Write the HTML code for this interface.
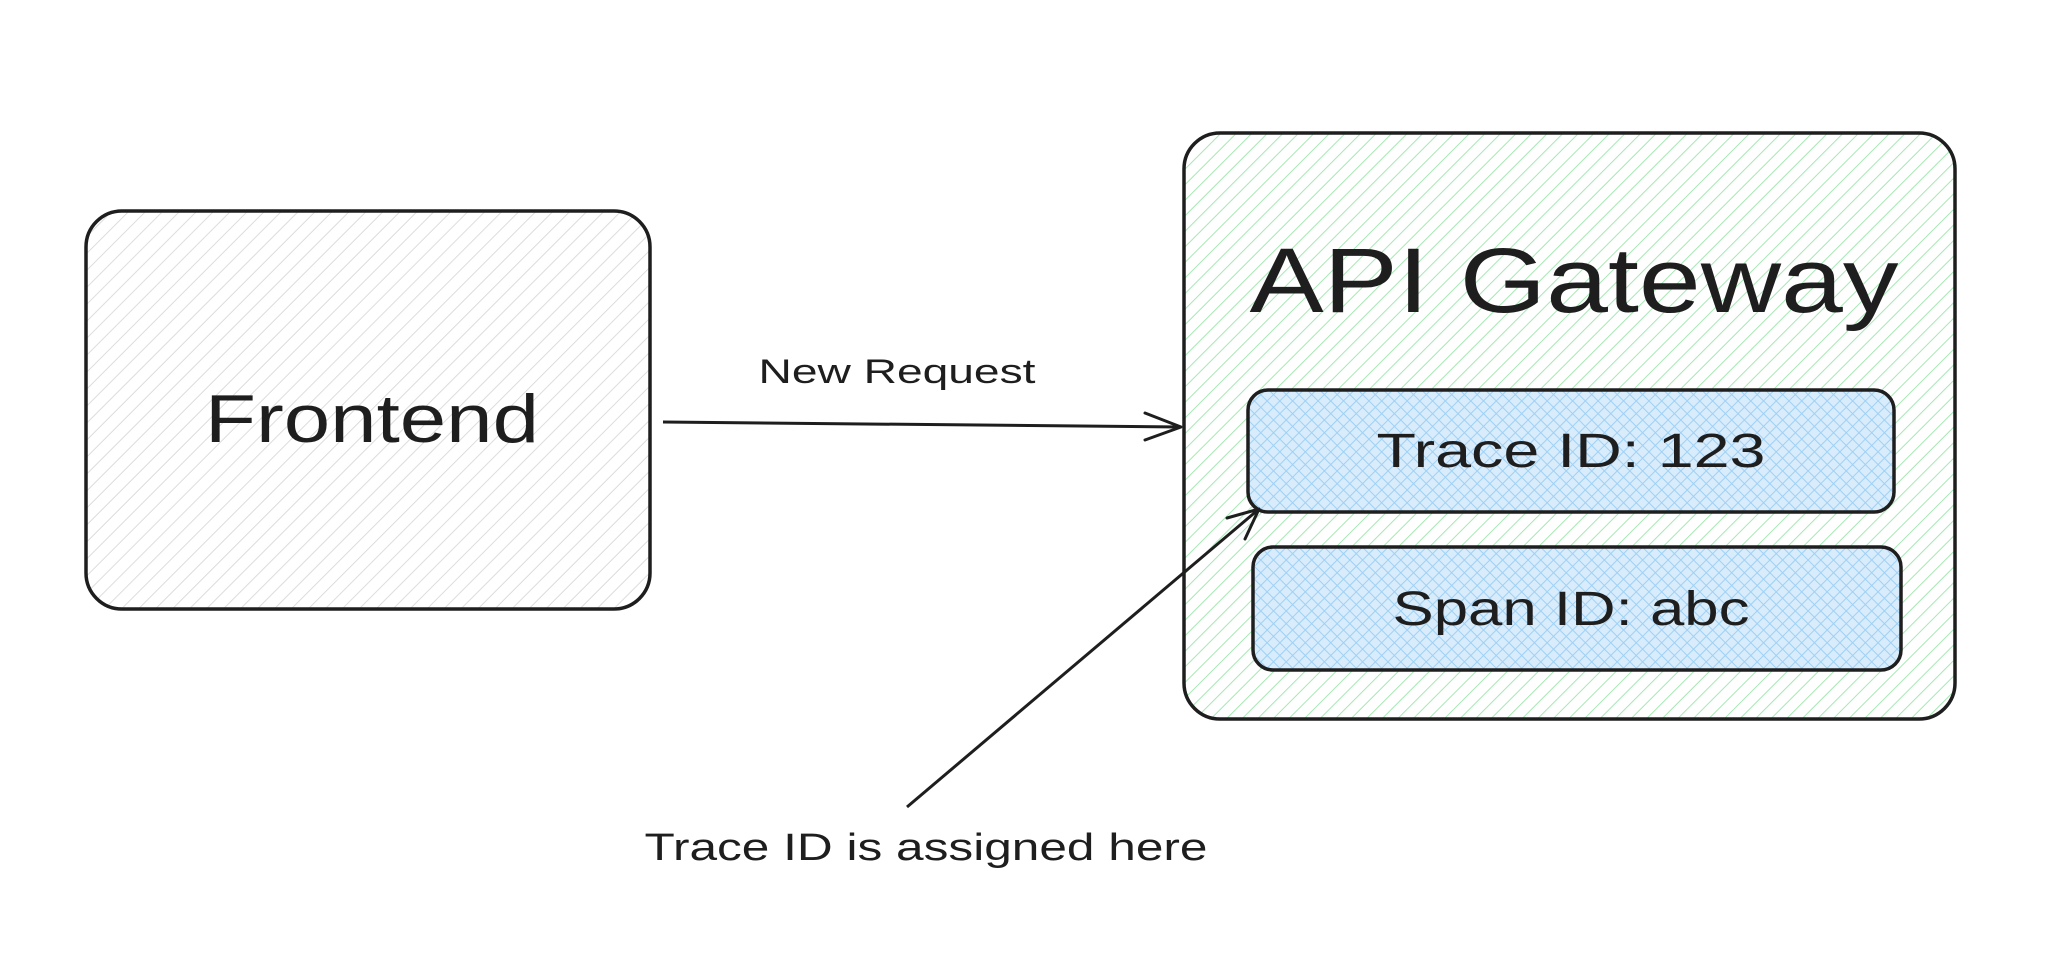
<!DOCTYPE html>
<html><head><meta charset="utf-8"><style>
html,body{margin:0;padding:0;background:#fff;}
svg{display:block;}
text{font-family:"Liberation Sans",sans-serif;fill:#1e1e1e;}
</style></head><body>
<svg width="2068" height="954" viewBox="0 0 2068 954" xmlns="http://www.w3.org/2000/svg">
<defs>
<pattern id="hg" width="12" height="12" patternUnits="userSpaceOnUse" patternTransform="rotate(45)">
<rect width="12" height="12" fill="#fff"/><line x1="0" y1="0" x2="0" y2="12" stroke="#dcdcdc" stroke-width="2"/></pattern>
<pattern id="hgr" width="11" height="11" patternUnits="userSpaceOnUse" patternTransform="rotate(45)">
<rect width="11" height="11" fill="#fff"/><line x1="0" y1="0" x2="0" y2="11" stroke="#a6e8b4" stroke-width="2"/></pattern>
<pattern id="hb" width="9" height="9" patternUnits="userSpaceOnUse" patternTransform="rotate(-45)">
<rect width="9" height="9" fill="#d8ecfb"/><line x1="0" y1="0" x2="0" y2="9" stroke="#9fd0f5" stroke-width="2"/><line x1="0" y1="0" x2="9" y2="0" stroke="#9fd0f5" stroke-width="2"/></pattern>
</defs>
<rect x="86" y="211" width="564" height="398" rx="36" fill="url(#hg)" stroke="#1e1e1e" stroke-width="3.5"/>
<text x="372" y="442" font-size="68" text-anchor="middle" textLength="334" lengthAdjust="spacingAndGlyphs">Frontend</text>
<rect x="1184" y="133" width="771" height="586" rx="36" fill="url(#hgr)" stroke="#1e1e1e" stroke-width="3.5"/>
<text x="1574" y="312" font-size="92" text-anchor="middle" textLength="649" lengthAdjust="spacingAndGlyphs">API Gateway</text>
<rect x="1248" y="390" width="646" height="122" rx="20" fill="url(#hb)" stroke="#1e1e1e" stroke-width="3.5"/>
<text x="1571" y="467" font-size="48" text-anchor="middle" textLength="389" lengthAdjust="spacingAndGlyphs">Trace ID: 123</text>
<rect x="1253" y="547" width="648" height="123" rx="20" fill="url(#hb)" stroke="#1e1e1e" stroke-width="3.5"/>
<text x="1571" y="625" font-size="48" text-anchor="middle" textLength="357" lengthAdjust="spacingAndGlyphs">Span ID: abc</text>
<line x1="663" y1="422" x2="1181" y2="427" stroke="#1e1e1e" stroke-width="3"/>
<polyline points="1145,413 1181,427 1145,440" fill="none" stroke="#1e1e1e" stroke-width="3" stroke-linecap="round" stroke-linejoin="round"/>
<text x="897" y="383" font-size="34" text-anchor="middle" textLength="277" lengthAdjust="spacingAndGlyphs">New Request</text>
<line x1="907" y1="807" x2="1259" y2="509" stroke="#1e1e1e" stroke-width="3"/>
<polyline points="1227,518 1259,509 1245,539" fill="none" stroke="#1e1e1e" stroke-width="3" stroke-linecap="round" stroke-linejoin="round"/>
<text x="926" y="860" font-size="38" text-anchor="middle" textLength="563" lengthAdjust="spacingAndGlyphs">Trace ID is assigned here</text>
</svg>
</body></html>
